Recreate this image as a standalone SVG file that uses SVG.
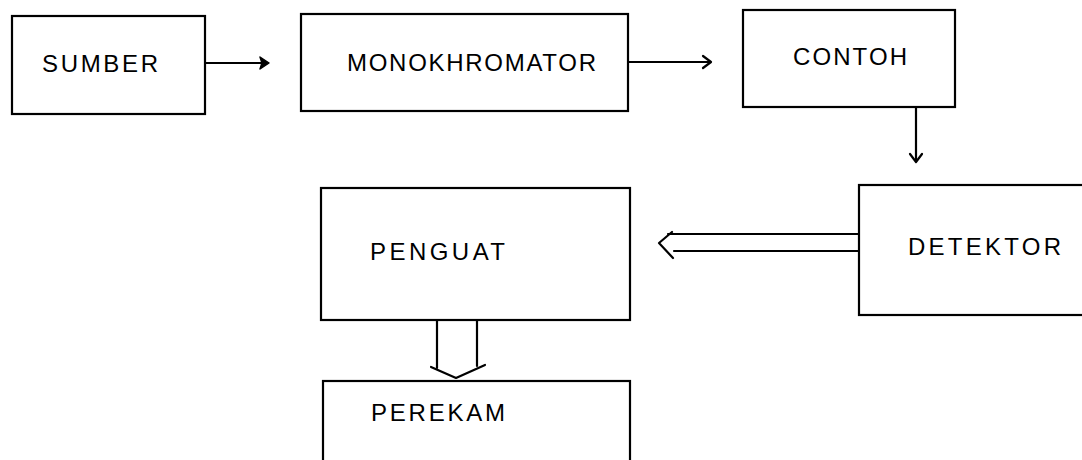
<svg xmlns="http://www.w3.org/2000/svg" width="1082" height="460" viewBox="0 0 1082 460">
<style>
.box{fill:none;stroke:#000;stroke-width:2.2}
.lbl{font-family:"Liberation Sans","DejaVu Sans",sans-serif;font-size:24px;fill:#000}
.ln{fill:none;stroke:#000;stroke-width:2.2;stroke-linecap:round;stroke-linejoin:round}
</style>
<rect width="1082" height="460" fill="#fff"/>
<g id="sumber"><rect class="box" x="12" y="16" width="193" height="98"/><text class="lbl" x="42" y="72" textLength="116" lengthAdjust="spacing">SUMBER</text></g>
<g id="monokhromator"><rect class="box" x="301" y="14" width="327" height="97"/><text class="lbl" x="347" y="71" textLength="249" lengthAdjust="spacing">MONOKHROMATOR</text></g>
<g id="contoh"><rect class="box" x="743" y="10" width="212" height="97"/><text class="lbl" x="793" y="65" textLength="114" lengthAdjust="spacing">CONTOH</text></g>
<g id="detektor"><rect class="box" x="859" y="185" width="230" height="130"/><text class="lbl" x="908" y="255" textLength="153" lengthAdjust="spacing">DETEKTOR</text></g>
<g id="penguat"><rect class="box" x="321" y="188" width="309" height="132"/><text class="lbl" x="370" y="260" textLength="135" lengthAdjust="spacing">PENGUAT</text></g>
<g id="perekam"><rect class="box" x="323" y="381" width="307" height="81"/><text class="lbl" x="371" y="421" textLength="134" lengthAdjust="spacing">PEREKAM</text></g>
<g id="connectors">
<line class="ln" x1="205" y1="63" x2="264" y2="63"/>
<polygon points="269,63 260,57 262,63 260,69" fill="#000" stroke="#000" stroke-width="1.5" stroke-linejoin="round"/>
<line class="ln" x1="628" y1="62" x2="710" y2="62"/>
<polyline class="ln" points="703,56 711,62 703,68"/>
<line class="ln" x1="916" y1="107" x2="916" y2="161"/>
<polyline class="ln" points="910,154 916,162 922,154"/>
<line class="ln" x1="668" y1="234" x2="859" y2="234"/>
<line class="ln" x1="674" y1="251" x2="859" y2="251"/>
<polyline class="ln" points="672,232 659,243 673,258"/>
<line class="ln" x1="437" y1="320" x2="437" y2="368"/>
<line class="ln" x1="477" y1="320" x2="477" y2="366"/>
<polyline class="ln" points="431,367 456,378 485,365"/>
</g>
</svg>
